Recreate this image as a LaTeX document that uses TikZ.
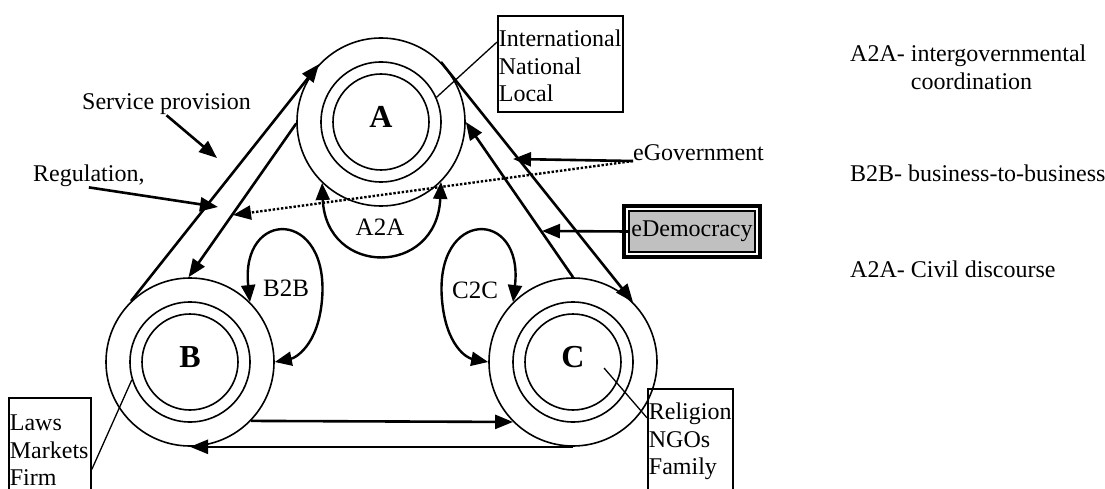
\documentclass[tikz,border=0pt]{standalone}
\usepackage{fontspec}
\setmainfont{Liberation Serif}
\usetikzlibrary{arrows.meta}
\definecolor{panelgray}{HTML}{C0C0C0}
\begin{document}
\begin{tikzpicture}[x=1pt,y=-1pt,
  txt/.style={font=\fontsize{24}{27.5}\selectfont, inner sep=0pt},
  ring/.style={circle, draw, line width=1.6pt, inner sep=0pt},
  flow/.style={line width=2.6pt, -{Triangle[length=18pt,width=14pt]}},
  loopflow/.style={line width=2.4pt, {Triangle[length=17pt,width=14pt]}-{Triangle[length=17pt,width=14pt]}},
  lead/.style={line width=1.3pt},
  tag/.style={txt, draw, line width=1.8pt, align=left, anchor=north west, inner xsep=1pt},
  sector/.style={font=\fontsize{32}{32}\selectfont\bfseries, inner sep=0pt},
  pair/.style={font=\fontsize{25}{25}\selectfont, inner sep=0pt, anchor=base},
]
\useasboundingbox (0,0) rectangle (1105,489);
\clip (0,0) rectangle (1105,489);

% the three actors, each as three nested rings
\node[ring, minimum size=168] (Ao) at (381,122) {};
\node[ring, minimum size=120] (Am) at (381,122) {};
\node[ring, minimum size=96]  (Ai) at (381,122) {};
\node[sector] (Al) at (381,117) {A};

\node[ring, minimum size=168] (Bo) at (190,362) {};
\node[ring, minimum size=120] (Bm) at (190,362) {};
\node[ring, minimum size=96]  (Bi) at (190,362) {};
\node[sector] (Bl) at (190,357) {B};

\node[ring, minimum size=168] (Co) at (573,362) {};
\node[ring, minimum size=120] (Cm) at (573,362) {};
\node[ring, minimum size=96]  (Ci) at (573,362) {};
\node[sector] (Cl) at (573,357) {C};

% levels attached to each actor
\node[tag, minimum width=125, minimum height=96, text width=123, text height=31pt, text depth=65pt] (gov) at (497,15) {International\\National\\Local};
\node[tag, minimum width=82, minimum height=104, text width=80, text height=33pt, text depth=71pt] (soc) at (8,397) {Laws\\Markets\\Firm};
\node[tag, minimum width=85, minimum height=108, text width=83, text height=31pt, text depth=77pt] (civ) at (647,388) {Religion\\NGOs\\Family};

\draw[lead] (Am.24) -- (gov.161);
\draw[lead] (Bm.197) -- (soc.-25);
\draw[lead] ([shift={(31,6)}]Ci.center) -- (civ.150);

% flows between the actors
\draw[flow] (Bo.134) -- (Ao.137);
\draw[flow] (Ao.181) -- (Bo.91);
\draw[flow] (Ao.45) -- (Co.45);
\draw[flow] (Co.90) -- (Ao.0);
\draw[flow] (Bo.-44) -- (Co.225);
\draw[flow] (Co.270) -- (Bo.270);

% exchanges inside each sector
\draw[loopflow] (Ao.226) .. controls (326,277) and (437,277) .. (Ao.-45);
\draw[loopflow] (Bo.45) .. controls (240,208) and (330,208) .. (322,300) .. controls (318,346) and (295,358) .. (Bo.0);
\draw[loopflow] (Co.135) .. controls (524,208) and (434,208) .. (442,300) .. controls (446,346) and (467,358) .. (Co.180);
\node[pair] (a2a) at (380,235) {A2A};
\node[pair] (b2b) at (286,296) {B2B};
\node[pair] (c2c) at (475,298) {C2C};

% annotations
\node[txt, anchor=base west] (svc) at (82,110) {Service provision};
\node[txt, anchor=base west] (reg) at (33,182) {Regulation,};
\node[txt, anchor=base west] (egov) at (633,161) {eGovernment};
\coordinate (svcTip) at (217,158);
\coordinate (regTip) at (218,207);
\coordinate (egTip) at (513,159);
\coordinate (dotTip) at (233,215);
\coordinate (edTip) at (542,231);
\draw[flow] (svc.south) -- (svcTip);
\draw[flow] (reg.south) -- (regTip);
\draw[flow] (egov.base west) -- (egTip);
\draw[flow, line width=2.4pt, dash pattern=on 2.4pt off 1.8pt] (egov.base west) -- (dotTip);

\node[txt, draw, line width=1.5pt, fill=panelgray, minimum width=126, minimum height=41, inner xsep=2pt] (ed) at (692,231.5) {eDemocracy};
\draw[line width=4pt] ([shift={(-4.5,-4.5)}]ed.north west) rectangle ([shift={(4.5,4.5)}]ed.south east);
\draw[flow] (ed.west) -- (edTip);

% legend
\node[txt, anchor=base west] (lgA) at (850,62) {\begin{tabular}[t]{@{}l@{ }l@{}}A2A- & intergovernmental\\ & coordination\end{tabular}};
\node[txt, anchor=base west] (lgB) at (850,182) {B2B- business-to-business};
\node[txt, anchor=base west] (lgC) at (850,277) {A2A- Civil discourse};
\end{tikzpicture}
\end{document}
